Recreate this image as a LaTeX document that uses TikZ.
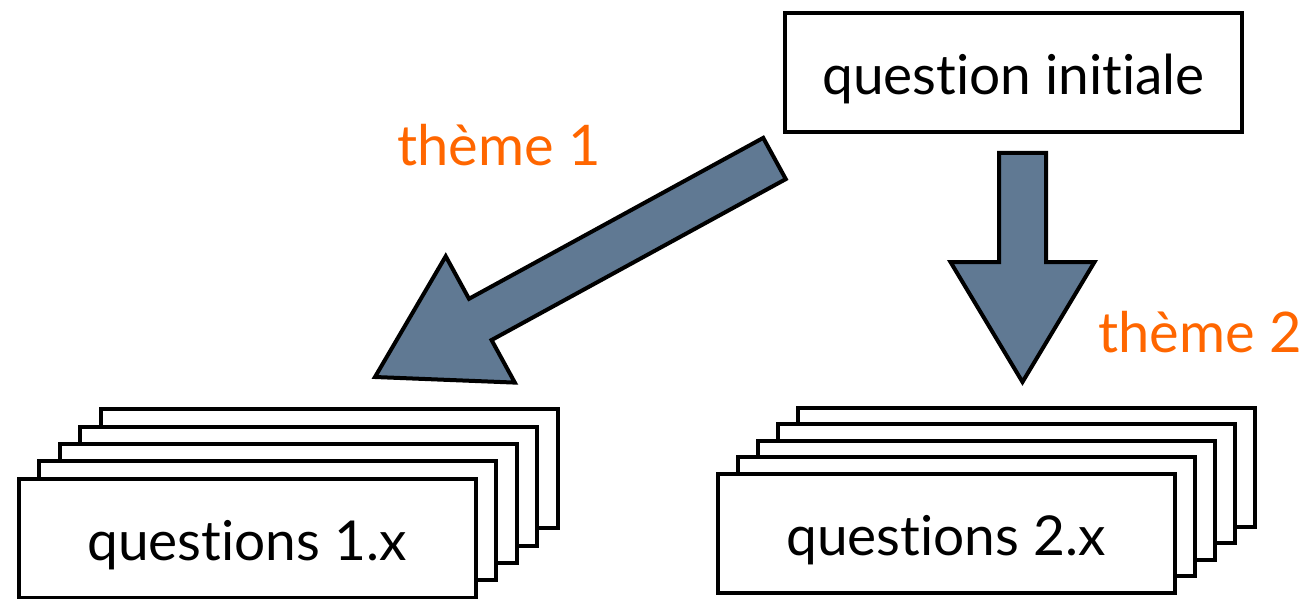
\documentclass[tikz,border=0pt]{standalone}
\usepackage{fontspec}
\setmainfont[Ligatures={NoCommon,NoDiscretionary,NoRare}]{Lato}
\usetikzlibrary{calc}
\definecolor{arrowfill}{RGB}{96,121,147}
\definecolor{themeorange}{RGB}{255,102,0}
\newcommand\blockarrow[2]{%
  \coordinate (hb) at ($(#2)!120pt!(#1)$);
  \draw[blockarrow] ($(#1)!23.5pt!90:(#2)$) -- ($(hb)!23.5pt!-90:(#1)$)
     -- ($(hb)!72pt!-90:(#1)$) -- (#2) -- ($(hb)!72pt!90:(#1)$)
     -- ($(hb)!23.5pt!90:(#1)$) -- ($(#1)!23.5pt!-90:(#2)$) -- cycle;}
\begin{document}
\begin{tikzpicture}[x=1pt,y=-1pt,
  box/.style={draw, line width=4pt, fill=white, minimum width=457pt,
    minimum height=119pt, inner sep=0pt, text height=44pt, text depth=0pt,
    font=\fontsize{55}{60}\selectfont},
  sheet/.style={box},
  theme/.style={text=themeorange, font=\fontsize{56}{60}\selectfont,
    inner sep=0pt, anchor=base west},
  blockarrow/.style={draw, line width=4pt, fill=arrowfill, line join=miter}]
\useasboundingbox (0,0) rectangle (1312,599);

% top box
\node[box] (qi) at (1013.5,72.5) {question initiale};

% left stack
\foreach \k in {4,3,2,1} {
  \node[sheet] (qa\k) at ({247+20.5*\k},{538-17.3*\k}) {};
}
\node[box] (qa) at (247,538) {questions 1.x};

% right stack
\foreach \k in {4,3,2,1} {
  \node[sheet] (qb\k) at ({946+20*\k},{533-16.5*\k}) {};
}
\node[box] (qb) at (946,533) {questions 2.x};

% arrows
\coordinate (a1) at (774.5,158.5);
\coordinate (b1) at (375,377);
\coordinate (a2) at (1022.5,153);
\coordinate (b2) at (1022.5,382);
\blockarrow{a1}{b1}
\blockarrow{a2}{b2}

% labels
\node[theme] (t1) at (397,166) {thème 1};
\node[theme] (t2) at (1098,352) {thème 2};
\end{tikzpicture}
\end{document}
